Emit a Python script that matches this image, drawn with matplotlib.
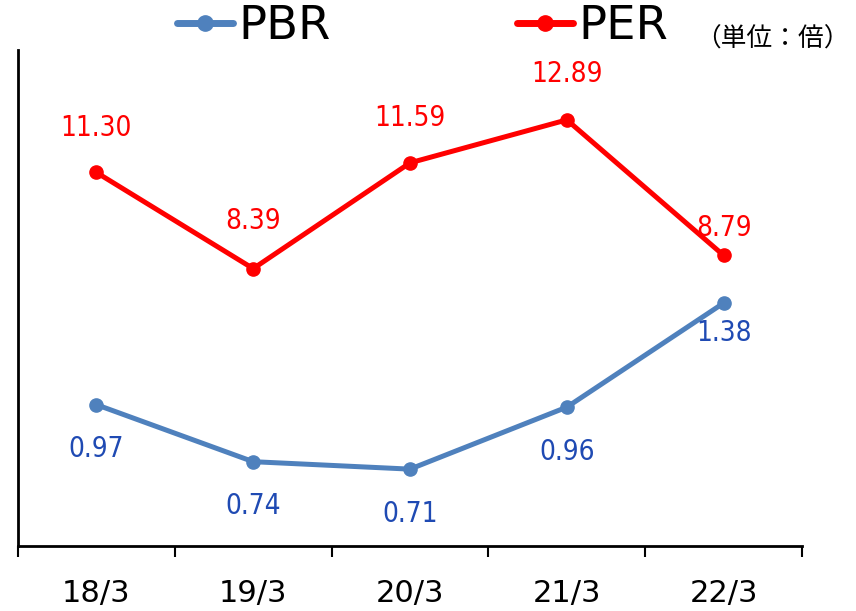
import matplotlib
matplotlib.use("Agg")
import matplotlib.pyplot as plt
from matplotlib.ticker import FixedLocator, NullFormatter

categories = ["18/3", "19/3", "20/3", "21/3", "22/3"]
pbr = [0.97, 0.74, 0.71, 0.96, 1.38]
per = [11.30, 8.39, 11.59, 12.89, 8.79]

PBR_LINE = "#4F81BD"
PBR_TEXT = "#1F4AB3"
PER_COLOR = "#FF0000"
label_font = dict(family=["DejaVu Sans"], fontstretch="condensed")

fig = plt.figure(figsize=(8.56, 6.11), dpi=100)
ax = fig.add_axes([0.021, 0.1064, 0.916, 0.8116])
ax2 = ax.twinx()

x = list(range(len(categories)))
ax.plot(x, pbr, color=PBR_LINE, lw=3.6, marker="o", ms=9.5, label="PBR",
        solid_capstyle="round", zorder=3)
ax2.plot(x, per, color=PER_COLOR, lw=3.6, marker="o", ms=9.5, label="PER",
         solid_capstyle="round", zorder=3)

ax.set_ylim(0.4, 2.4)
ax2.set_ylim(0, 15)
ax.set_xlim(-0.5, len(categories) - 0.5)

# value labels (offsets in pixels from each point)
pbr_off = [-44, -44, -45, -45, -30]
per_off = [44, 48, 45, 46, 27]
for i, v in enumerate(pbr):
    ax.annotate(f"{v:.2f}", (i, v), xytext=(0, pbr_off[i] * 0.72),
                textcoords="offset points", ha="center", va="center",
                color=PBR_TEXT, fontsize=20, **label_font)
for i, v in enumerate(per):
    ax2.annotate(f"{v:.2f}", (i, v), xytext=(0, per_off[i] * 0.72),
                 textcoords="offset points", ha="center", va="center",
                 color=PER_COLOR, fontsize=20, **label_font)

# axes styling
for a in (ax, ax2):
    a.spines["top"].set_visible(False)
    a.spines["right"].set_visible(False)
ax2.spines["left"].set_visible(False)
ax2.spines["bottom"].set_visible(False)
ax.spines["left"].set_linewidth(2)
ax.spines["bottom"].set_linewidth(2)
ax.set_yticks([])
ax2.set_yticks([])

ax.set_xticks(x)
ax.set_xticklabels(categories, fontsize=22)
ax.tick_params(axis="x", which="major", length=0, pad=24)
ax.xaxis.set_minor_locator(FixedLocator([i - 0.5 for i in range(len(categories) + 1)]))
ax.xaxis.set_minor_formatter(NullFormatter())
ax.tick_params(axis="x", which="minor", length=8, width=1.5, direction="out")

h1, l1 = ax.get_legend_handles_labels()
h2, l2 = ax2.get_legend_handles_labels()
leg = fig.legend(h1 + h2, l1 + l2, loc="center", bbox_to_anchor=(0.494, 0.956),
                 ncol=2, frameon=False, fontsize=33.5, handlelength=1.2,
                 handletextpad=0.12, columnspacing=4.0, borderpad=0)
for line in leg.get_lines():
    line.set_linewidth(5)
    line.set_markersize(11)

fig.text(0.992, 0.936, "（単位：倍）", ha="right", va="center", fontsize=18.5,
         family=["Noto Sans CJK JP", "DejaVu Sans"])

fig.savefig("out.png", dpi=100)
